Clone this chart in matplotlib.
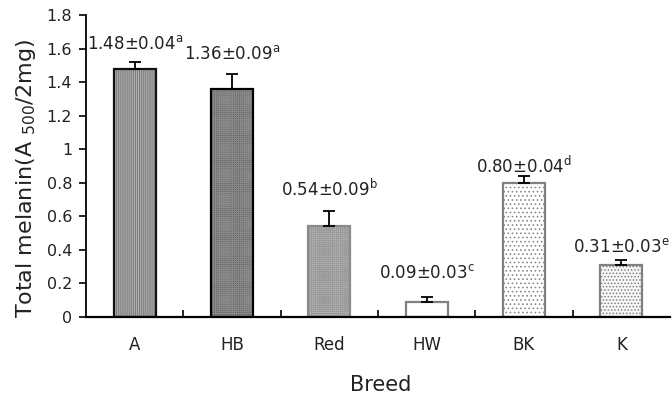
import matplotlib
matplotlib.use("Agg")
import matplotlib.pyplot as plt
import numpy as np

categories = ["A", "HB", "Red", "HW", "BK", "K"]
means = [1.48, 1.36, 0.54, 0.09, 0.80, 0.31]
errors = [0.04, 0.09, 0.09, 0.03, 0.04, 0.03]
letters = ["a", "a", "b", "c", "d", "e"]

# styling
face_colors = ["#7c7c7c", "#606060", "#bcbcbc", "#ffffff", "#ffffff", "#f7f7f7"]
edge_colors = ["#111111", "#000000", "#8a8a8a", "#808080", "#808080", "#808080"]
hatches = ["||||||||", "++++++++", "++++++++", "", "....", "....."]
hatch_colors = ["#b4b4b4", "#8a8a8a", "#9a9a9a", "#ffffff", "#8a8a8a", "#808080"]
label_offsets = [0.11, 0.12, 0.13, 0.14, 0.06, 0.075]

plt.rcParams['font.family'] = ['DejaVu Sans']
plt.rcParams['hatch.linewidth'] = 0.7
fig = plt.figure(figsize=(6.72, 3.99), dpi=100)
ax = fig.add_axes([0.128, 0.2055, 0.869, 0.7565])

x = np.arange(len(categories))
for i in range(len(categories)):
    b = ax.bar(x[i], means[i], width=0.43, color=face_colors[i], edgecolor=edge_colors[i],
               linewidth=1.6, hatch=hatches[i], zorder=2)
    b[0]._hatch_color = matplotlib.colors.to_rgba(hatch_colors[i])
    ax.errorbar(x[i], means[i], yerr=[[0], [errors[i]]], fmt='none', ecolor='black',
                elinewidth=1.3, capsize=4.5, capthick=1.3, zorder=3)
    ax.text(x[i], means[i] + errors[i] + label_offsets[i],
            f"{means[i]:.2f}\u00b1{errors[i]:.2f}" + r"$^{\mathregular{" + letters[i] + "}}$",
            ha='center', va='center', fontsize=12, color='#222222')

ax.set_xlim(-0.5, len(categories) - 0.5)
ax.set_ylim(0, 1.8)
ax.set_yticks(np.arange(0, 1.81, 0.2))
ax.set_yticklabels(["0", "0.2", "0.4", "0.6", "0.8", "1", "1.2", "1.4", "1.6", "1.8"])
ax.set_xticks(np.arange(0.5, len(categories) - 0.5, 1.0))
ax.set_xticklabels([])
ax.tick_params(axis='x', direction='in', length=5, width=1.2)
ax.tick_params(axis='y', direction='out', length=5, width=1.2, labelsize=11.5, labelcolor='#222222', pad=5)
for i, c in enumerate(categories):
    ax.text(x[i], -0.165, c, ha='center', va='center', fontsize=12, color='#222222')
ax.spines['top'].set_visible(False)
ax.spines['right'].set_visible(False)
ax.spines['left'].set_linewidth(1.3)
ax.spines['bottom'].set_linewidth(1.6)
ax.set_ylabel("Total melanin(A $_{\\mathregular{500}}$/2mg)", fontsize=16, color='#222222')
ax.yaxis.set_label_coords(-0.082, 0.46)
fig.text(0.566, 0.035, "Breed", ha='center', va='center', fontsize=15, color='#222222')

fig.savefig("out.png", dpi=100)
